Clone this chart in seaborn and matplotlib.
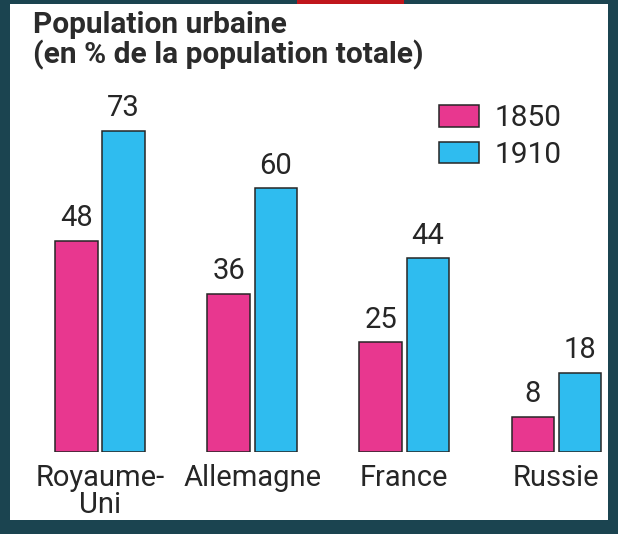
import matplotlib
matplotlib.use("Agg")
import matplotlib.pyplot as plt
from matplotlib.patches import Rectangle
import pandas as pd
import seaborn as sns

pays = ["Royaume-\nUni", "Allemagne", "France", "Russie"]
annees = ["1850", "1910"]
pop_1850 = [48, 36, 25, 8]
pop_1910 = [73, 60, 44, 18]

df = pd.DataFrame({
    "pays": pays * 2,
    "annee": ["1850"] * 4 + ["1910"] * 4,
    "pct": pop_1850 + pop_1910,
})

sns.set_theme(style="white")
plt.rcParams["font.family"] = ["Roboto", "DejaVu Sans"]
txt = "#262626"

W, H = 618, 534
fig = plt.figure(figsize=(W / 100, H / 100), dpi=100)
fig.patch.set_facecolor("#1b4450")

# white card + red strip on top
fig.patches.append(Rectangle((10 / W, 14 / H), 598 / W, 516 / H, transform=fig.transFigure,
                             facecolor="white", edgecolor="none", zorder=-5))
fig.patches.append(Rectangle((297 / W, 530 / H), 107 / W, 4 / H, transform=fig.transFigure,
                             facecolor="#c0161c", edgecolor="none", zorder=-5))

ax = fig.add_axes([21 / W, 82 / H, 587 / W, 352 / H])
ax.set_facecolor("none")
ax.set_zorder(2)

sns.barplot(data=df, x="pays", y="pct", hue="annee", hue_order=annees,
            palette=["#e8378f", "#2fbcef"], saturation=1, width=0.62, gap=0.1,
            edgecolor="#262626", linewidth=1.1, ax=ax)

for cont in ax.containers:
    ax.bar_label(cont, padding=6, fontsize=21, color=txt)

ax.set_xlim(-0.52, 3.34)
ax.set_ylim(0, 80)
ax.set_xlabel("")
ax.set_ylabel("")
ax.set_yticks([])
ax.tick_params(axis="x", length=0, pad=9, labelsize=21, labelcolor=txt)
for lbl in ax.get_xticklabels():
    lbl.set_linespacing(0.95)
    lbl.set_verticalalignment("top")
sns.despine(ax=ax, left=True, bottom=True)

leg = ax.legend(loc="upper left", bbox_to_anchor=(439 / W, 1 - 104 / H), bbox_transform=fig.transFigure,
                frameon=False, fontsize=21.5, handlelength=1.35, handleheight=0.75,
                handletextpad=0.5, labelspacing=0.3, borderpad=0, borderaxespad=0)
for t in leg.get_texts():
    t.set_color(txt)

fig.text(33 / W, 1 - 11 / H, "Population urbaine\n(en % de la population totale)",
         ha="left", va="top", fontsize=21.5, fontweight="bold", color="#2b2b2b", linespacing=1.05)

fig.savefig("out.png", dpi=100, facecolor=fig.get_facecolor())
